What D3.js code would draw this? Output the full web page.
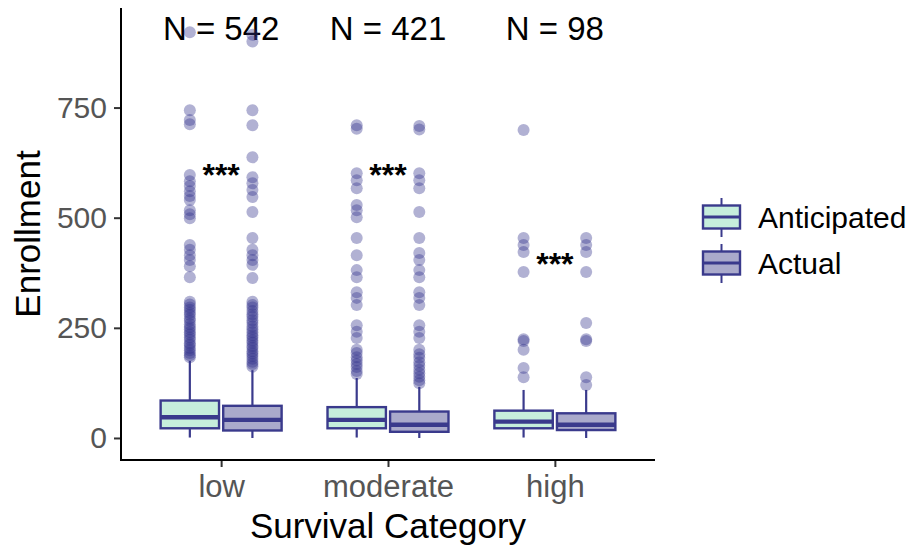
<!DOCTYPE html>
<html>
<head>
<meta charset="utf-8">
<script src="https://cdn.jsdelivr.net/npm/d3@7"></script>
<style>
  html, body { margin: 0; padding: 0; background: #fff; }
  svg { display: block; font-family: "Liberation Sans", Arial, sans-serif; }
</style>
</head>
<body>
<svg id="chart" width="924" height="550"></svg>
<script>
// ---------------- data ----------------
const categories = ["low", "moderate", "high"];
const groups = ["Anticipated", "Actual"];
const nLabels = ["N = 542", "N = 421", "N = 98"];
const yTicks = [0, 250, 500, 750];
const signifLabels = ["***", "***", "***"];
const signifY = [615, 615, 413];

// box stats per category: [lower whisker, Q1, median, Q3, upper whisker]
const anticipatedBox = [
  [1, 22, 47, 85, 175],
  [1, 22, 41, 70, 136],
  [1, 22, 37, 62, 109]
];
const actualBox = [
  [0, 17, 41, 73, 154],
  [0, 14, 30, 60, 116],
  [0, 18, 30, 56, 109]
];

// outliers per category
const anticipatedOutliers = [
  [921, 744, 722, 712, 597, 583, 572, 560, 549, 540, 517, 508, 499, 438, 427, 415, 404, 390, 365,
   309, 303, 296, 291, 284, 279, 271, 266, 258, 252, 247, 240, 235, 228, 223, 215, 211, 204, 199, 193, 188, 183],
  [710, 702, 601, 585, 567, 529, 517, 501, 454, 415, 381, 365, 331, 318, 302, 256, 241, 227,
   200, 193, 183, 176, 168, 161, 152, 145],
  [699, 454, 438, 422, 377, 224, 220, 200, 159, 138]
];
const actualOutliers = [
  [915, 900, 744, 710, 637, 592, 578, 563, 547, 513, 454, 427, 415, 404, 393, 363,
   309, 302, 296, 288, 281, 275, 267, 261, 253, 247, 240, 233, 228, 221, 216, 209, 204, 197, 192, 186, 180, 173, 168, 162],
  [708, 700, 601, 585, 567, 513, 454, 420, 404, 381, 365, 331, 318, 302, 256, 241, 227,
   200, 190, 182, 172, 164, 155, 147, 139, 131, 124],
  [454, 438, 422, 377, 261, 224, 220, 138, 120]
];

// ---------------- styles ----------------
const fills = { "Anticipated": "#c6eedc", "Actual": "#aaaacb" };
const lineCol = "#3a3a8c";
const pointCol = "#32328c";

// ---------------- layout ----------------
const svg = d3.select("#chart");
svg.append("rect").attr("width", 924).attr("height", 550).attr("fill", "#fff");

const panel = { left: 121, right: 655, top: 8, bottom: 460 };

const x = d3.scalePoint().domain(categories).range([panel.left, panel.right]).padding(0.6);
const step = x.step();
const dodge = d3.scaleBand().domain(groups).range([-0.375 * step, 0.375 * step]);
const boxW = 0.35 * step;

const y = d3.scaleLinear().domain([-50, 976]).range([panel.bottom, panel.top]);

// N labels (drawn under points)
svg.append("g").selectAll("text").data(categories).join("text")
  .attr("x", d => x(d))
  .attr("y", 40)
  .attr("text-anchor", "middle")
  .attr("font-size", 33)
  .attr("fill", "#000")
  .text((d, i) => nLabels[i]);

const boxData = [];
categories.forEach((c, i) => {
  boxData.push({ cat: c, group: "Anticipated", s: anticipatedBox[i], out: anticipatedOutliers[i] });
  boxData.push({ cat: c, group: "Actual", s: actualBox[i], out: actualOutliers[i] });
});

const gBoxes = svg.append("g");
boxData.forEach(b => {
  const cx = x(b.cat) + dodge(b.group) + dodge.bandwidth() / 2;
  const g = gBoxes.append("g");
  // whiskers
  g.append("line").attr("x1", cx).attr("x2", cx)
    .attr("y1", y(b.s[3])).attr("y2", y(b.s[4]))
    .attr("stroke", lineCol).attr("stroke-width", 2.2);
  g.append("line").attr("x1", cx).attr("x2", cx)
    .attr("y1", y(b.s[1])).attr("y2", y(b.s[0]))
    .attr("stroke", lineCol).attr("stroke-width", 2.2);
  // box
  g.append("rect")
    .attr("x", cx - boxW / 2).attr("width", boxW)
    .attr("y", y(b.s[3])).attr("height", y(b.s[1]) - y(b.s[3]))
    .attr("fill", fills[b.group]).attr("stroke", lineCol).attr("stroke-width", 2.4);
  // median
  g.append("line")
    .attr("x1", cx - boxW / 2).attr("x2", cx + boxW / 2)
    .attr("y1", y(b.s[2])).attr("y2", y(b.s[2]))
    .attr("stroke", lineCol).attr("stroke-width", 4.4);
  // outliers
  g.selectAll("circle").data(b.out).join("circle")
    .attr("cx", cx).attr("cy", d => y(d)).attr("r", 6)
    .attr("fill", pointCol).attr("fill-opacity", 0.38);
});

// significance stars
svg.append("g").selectAll("text").data(categories).join("text")
  .attr("x", d => x(d))
  .attr("y", (d, i) => y(signifY[i]) + 19)
  .attr("text-anchor", "middle")
  .attr("font-size", 32)
  .attr("font-weight", "bold")
  .attr("fill", "#000")
  .text((d, i) => signifLabels[i]);

// axes
const yAxis = svg.append("g").attr("transform", `translate(${panel.left},0)`)
  .call(d3.axisLeft(y).tickValues(yTicks).tickSize(7).tickSizeOuter(0).tickPadding(7));
yAxis.select(".domain").remove();
yAxis.selectAll(".tick line").attr("stroke", "#333").attr("stroke-width", 2);
yAxis.selectAll(".tick text").attr("font-size", 30).attr("fill", "#555")
  .attr("font-family", "Liberation Sans, Arial, sans-serif");

const xAxis = svg.append("g").attr("transform", `translate(0,${panel.bottom})`)
  .call(d3.axisBottom(x).tickSize(7).tickSizeOuter(0));
xAxis.select(".domain").remove();
xAxis.selectAll(".tick line").attr("stroke", "#333").attr("stroke-width", 2);
xAxis.selectAll(".tick text").attr("font-size", 31).attr("fill", "#555")
  .attr("dy", null).attr("y", 37)
  .attr("font-family", "Liberation Sans, Arial, sans-serif");

// axis lines
svg.append("line").attr("x1", panel.left).attr("x2", panel.left)
  .attr("y1", panel.top).attr("y2", panel.bottom + 1)
  .attr("stroke", "#000").attr("stroke-width", 2);
svg.append("line").attr("x1", panel.left - 1).attr("x2", panel.right)
  .attr("y1", panel.bottom).attr("y2", panel.bottom)
  .attr("stroke", "#000").attr("stroke-width", 2);

// titles
svg.append("text")
  .attr("transform", `translate(40,${(panel.top + panel.bottom) / 2}) rotate(-90)`)
  .attr("text-anchor", "middle").attr("font-size", 35).attr("fill", "#000")
  .text("Enrollment");
svg.append("text")
  .attr("x", (panel.left + panel.right) / 2).attr("y", 538)
  .attr("text-anchor", "middle").attr("font-size", 35).attr("fill", "#000")
  .text("Survival Category");

// legend
const legend = svg.append("g");
const keyY = [217, 263];
groups.forEach((gname, i) => {
  const cy = keyY[i];
  const kx = 721.5;
  const lg = legend.append("g");
  lg.append("line").attr("x1", kx).attr("x2", kx).attr("y1", cy - 19).attr("y2", cy + 20)
    .attr("stroke", lineCol).attr("stroke-width", 2);
  lg.append("rect").attr("x", kx - 18.5).attr("width", 37)
    .attr("y", cy - 11.5).attr("height", 23)
    .attr("fill", fills[gname]).attr("stroke", lineCol).attr("stroke-width", 2.4);
  lg.append("line").attr("x1", kx - 18.5).attr("x2", kx + 18.5).attr("y1", cy).attr("y2", cy)
    .attr("stroke", lineCol).attr("stroke-width", 3);
  lg.append("text").attr("x", 758).attr("y", cy).attr("dy", "0.36em")
    .attr("font-size", 30).attr("fill", "#000").text(gname);
});
</script>
</body>
</html>
